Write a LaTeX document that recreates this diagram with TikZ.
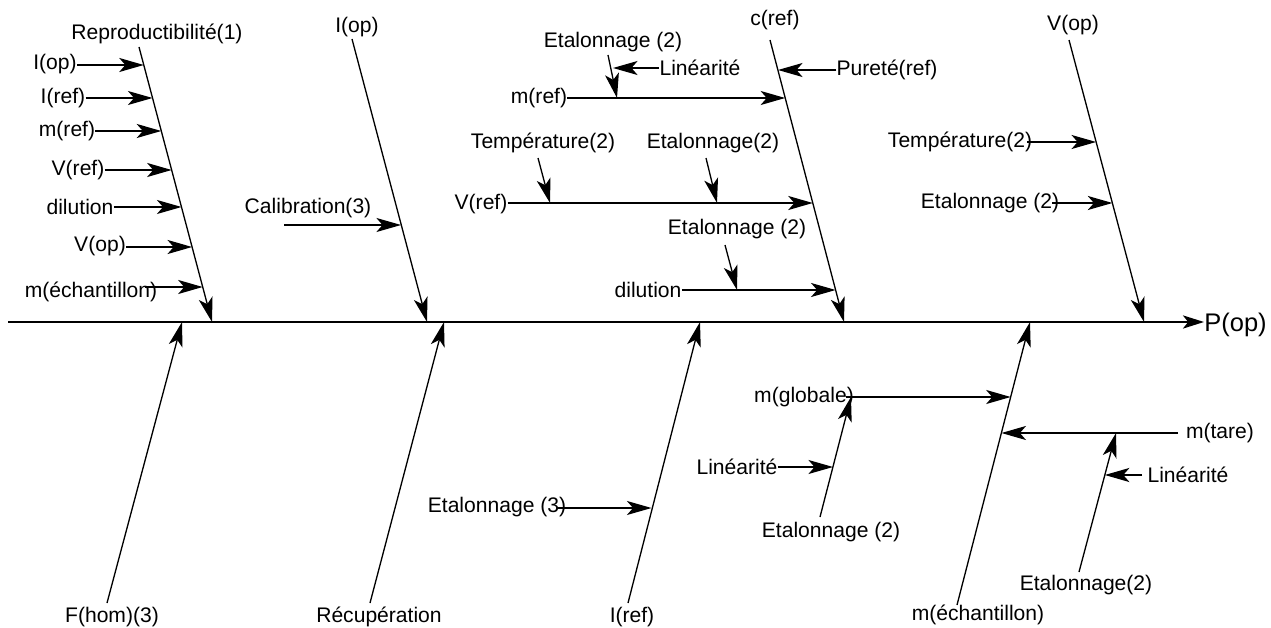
\documentclass[tikz,border=0pt]{standalone}
\usepackage{fontspec}
\setmainfont{Liberation Sans}
\usetikzlibrary{arrows.meta}
\begin{document}
\begin{tikzpicture}[x=0.02cm,y=-0.02cm,
  lbl/.style={inner sep=0pt,font=\fontsize{12}{14}\selectfont},
  tip/.style={-{Stealth[length=14pt,width=8pt,inset=3.5pt]}},
  arr/.style={line width=0.75pt,tip},
  spine/.style={line width=1.1pt,-{Stealth[length=12pt,width=7.5pt,inset=3pt]}}]
\useasboundingbox (0,0) rectangle (1271,628);

% main spine
\coordinate (s0) at (8,322);
\node[lbl,font=\fontsize{14.5}{17}\selectfont,anchor=west] (pop) at (1204,325) {P(op)};
\draw[spine] (s0) -- (pop.west |- s0);

% ---- upper bone: Reproductibilité(1)
\node[lbl] (repro) at (157,34) {Reproductibilité(1)};
\coordinate (A0) at (139,47);
\coordinate (A1) at (212,322);
\draw[arr] (A0) -- (A1);
\node[lbl] (a1) at (55,64) {I(op)};
\coordinate (ta1) at (143.8,65);
\draw[arr] (a1.east |- ta1) -- (ta1);
\node[lbl] (a2) at (63,98) {I(ref)};
\coordinate (ta2) at (152.5,98);
\draw[arr] (a2.east |- ta2) -- (ta2);
\node[lbl] (a3) at (67,131) {m(ref)};
\coordinate (ta3) at (161.3,131);
\draw[arr] (a3.east |- ta3) -- (ta3);
\node[lbl] (a4) at (78,170) {V(ref)};
\coordinate (ta4) at (171.7,170);
\draw[arr] (a4.east |- ta4) -- (ta4);
\node[lbl] (a5) at (80,207) {dilution};
\coordinate (ta5) at (181.5,207);
\draw[arr] (a5.east |- ta5) -- (ta5);
\node[lbl] (a6) at (100,246) {V(op)};
\coordinate (ta6) at (192.1,247);
\draw[arr] (a6.east |- ta6) -- (ta6);
\node[lbl] (a7) at (91,292) {m(échantillon)};
\coordinate (sa7) at (145,287);
\coordinate (ta7) at (202.7,287);
\draw[arr] (sa7) -- (ta7);

% ---- upper bone: I(op)
\node[lbl] (iop) at (357,27) {I(op)};
\coordinate (B0) at (352,39);
\coordinate (B1) at (427,322);
\draw[arr] (B0) -- (B1);
\node[lbl] (calib) at (308,208) {Calibration(3)};
\coordinate (sb1) at (284,225);
\coordinate (tb1) at (401,225);
\draw[arr] (sb1) -- (tb1);

% ---- upper bone: c(ref)
\node[lbl] (cref) at (775,20) {c(ref)};
\coordinate (C0) at (770,40);
\coordinate (C1) at (844,322);
\draw[arr] (C0) -- (C1);
\node[lbl] (pur) at (887,70) {Pureté(ref)};
\coordinate (tc1) at (778,70);
\draw[arr] (pur.west |- tc1) -- (tc1);
% m(ref) branch
\node[lbl] (cmref) at (539,98) {m(ref)};
\coordinate (tc2) at (785.2,98);
\draw[arr] (cmref.east |- tc2) -- (tc2);
\node[lbl] (et1) at (613,42) {Etalonnage (2)};
\coordinate (se1) at (608,55);
\coordinate (te1) at (617,98);
\draw[arr] (se1) -- (te1);
\node[lbl] (lin1) at (700,68) {Linéarité};
\coordinate (tl1) at (613,68);
\draw[arr] (lin1.west |- tl1) -- (tl1);
% V(ref) branch
\node[lbl] (cvref) at (481,204) {V(ref)};
\coordinate (tc3) at (812.8,203);
\draw[arr] (cvref.east |- tc3) -- (tc3);
\node[lbl] (temp1) at (543,143) {Température(2)};
\coordinate (st1) at (538,158);
\coordinate (tt1) at (550,203);
\draw[arr] (st1) -- (tt1);
\node[lbl] (et2) at (713,143) {Etalonnage(2)};
\coordinate (se2) at (706,158);
\coordinate (te2) at (717,203);
\draw[arr] (se2) -- (te2);
% dilution branch
\node[lbl] (cdil) at (648,290) {dilution};
\coordinate (tc4) at (835.6,290);
\draw[arr] (cdil.east |- tc4) -- (tc4);
\node[lbl] (et3) at (737,229) {Etalonnage (2)};
\coordinate (se3) at (725,245);
\coordinate (te3) at (737,290);
\draw[arr] (se3) -- (te3);

% ---- upper bone: V(op)
\node[lbl] (vop) at (1073,25) {V(op)};
\coordinate (D0) at (1069,40);
\coordinate (D1) at (1144,322);
\draw[arr] (D0) -- (D1);
\node[lbl] (temp2) at (960,142) {Température(2)};
\coordinate (sd1) at (1027,142);
\coordinate (td1) at (1096.1,142);
\draw[arr] (sd1) -- (td1);
\node[lbl] (et4) at (990,203) {Etalonnage (2)};
\coordinate (sd2) at (1052,203);
\coordinate (td2) at (1112.4,203);
\draw[arr] (sd2) -- (td2);

% ---- lower bone: F(hom)(3)
\node[lbl] (fhom) at (112,617) {F(hom)(3)};
\coordinate (E0) at (107,603);
\coordinate (E1) at (182,322);
\draw[arr] (E0) -- (E1);

% ---- lower bone: Récupération
\node[lbl] (recup) at (379,617) {Récupération};
\coordinate (F0) at (370,603);
\coordinate (F1) at (444,322);
\draw[arr] (F0) -- (F1);

% ---- lower bone: I(ref)
\node[lbl] (iref) at (632,617) {I(ref)};
\coordinate (G0) at (628,603);
\coordinate (G1) at (700,322);
\draw[arr] (G0) -- (G1);
\node[lbl] (et5) at (497,507) {Etalonnage (3)};
\coordinate (sg1) at (557,508);
\coordinate (tg1) at (651.5,508);
\draw[arr] (sg1) -- (tg1);

% ---- lower bone: m(échantillon)
\node[lbl] (mech) at (978,615) {m(échantillon)};
\coordinate (H0) at (957,605);
\coordinate (H1) at (1030,322);
\draw[arr] (H0) -- (H1);
% m(globale) branch
\node[lbl] (mglob) at (804,397) {m(globale)};
\coordinate (sh1) at (846,397);
\coordinate (th1) at (1010.7,397);
\draw[arr] (sh1) -- (th1);
\node[lbl] (et6) at (831,532) {Etalonnage (2)};
\coordinate (K0) at (820,517);
\coordinate (K1) at (851,397);
\draw[arr] (K0) -- (K1);
\node[lbl] (lin2) at (737,467) {Linéarité};
\coordinate (tk1) at (833,467);
\draw[arr] (lin2.east |- tk1) -- (tk1);
% m(tare) branch
\node[lbl] (mtare) at (1220,433) {m(tare)};
\coordinate (sh2) at (1178,433);
\coordinate (th2) at (1001.4,433);
\draw[arr] (sh2) -- (th2);
\node[lbl] (et7) at (1086,585) {Etalonnage(2)};
\coordinate (L0) at (1079,572);
\coordinate (L1) at (1116,433);
\draw[arr] (L0) -- (L1);
\node[lbl] (lin3) at (1188,475) {Linéarité};
\coordinate (sl1) at (1142,475);
\coordinate (tl2) at (1104.8,475);
\draw[arr] (sl1) -- (tl2);
\end{tikzpicture}
\end{document}
